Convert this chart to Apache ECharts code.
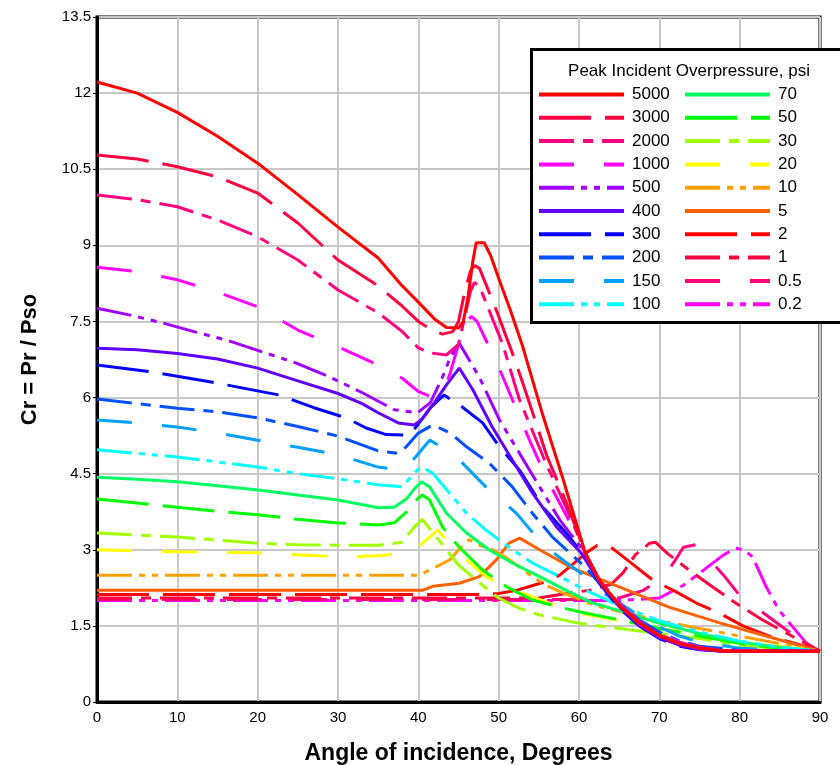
<!DOCTYPE html>
<html>
<head>
<meta charset="utf-8">
<script src="https://cdn.jsdelivr.net/npm/echarts@6/dist/echarts.min.js"></script>
<style>
  html, body { margin: 0; padding: 0; background: #fff; }
  #chart { width: 840px; height: 765px; }
</style>
</head>
<body>
<div id="chart"></div>
<script>
// peak incident overpressure, psi (legend order)
let pressures = ["5000", "3000", "2000", "1000", "500", "400", "300", "200", "150", "100",
                 "70", "50", "30", "20", "10", "5", "2", "1", "0.5", "0.2"]

// [angle, Cr]
let cr5000 = [[0,12.22],[5,12.0],[10,11.62],[15,11.15],[20,10.62],[25,10.0],[30,9.36],[35,8.75],[38,8.2],[40,7.88],[42,7.55],[43.5,7.38],[45,7.37],[45.6,7.5],[46.2,8.0],[46.8,8.7],[47.2,9.05],[48.2,9.05],[49,8.8],[50,8.35],[51.5,7.7],[53,7.0],[55.5,5.65],[58,4.4],[60.8,2.93],[62.5,2.4],[65,1.9],[67.5,1.55],[70,1.3],[72.5,1.15],[75,1.06],[78,1.0],[90,1.0]]
let cr3000 = [[0,10.78],[5,10.7],[10,10.55],[15,10.35],[20,10.03],[25,9.44],[30,8.71],[35,8.2],[38,7.8],[40,7.5],[41.5,7.35],[43,7.25],[44.3,7.3],[45,7.5],[45.8,8.1],[46.5,8.5],[47,8.6],[47.6,8.55],[48.5,8.2],[50,7.6],[52,6.75],[53.5,6.05],[56,4.85],[58.5,3.9],[60.8,2.93],[62.5,2.4],[65,1.92],[67.5,1.57],[70,1.32],[72.5,1.16],[75,1.07],[78,1.01],[90,1.0]]
let cr2000 = [[0,9.99],[5,9.9],[10,9.76],[15,9.5],[20,9.17],[25,8.71],[30,8.12],[35,7.67],[38,7.3],[40,6.98],[41.5,6.88],[43.5,6.84],[45,7.05],[45.8,7.6],[46.5,8.1],[47,8.27],[47.6,8.2],[48.6,7.8],[50.5,7.05],[52.6,5.95],[55.9,4.7],[58.5,3.8],[60.8,2.93],[62.5,2.42],[65,1.93],[67.5,1.58],[70,1.33],[72.5,1.17],[75,1.08],[78,1.01],[90,1.0]]
let cr1000 = [[0,8.57],[5,8.48],[10,8.32],[15,8.08],[20,7.79],[25,7.33],[30,7.0],[35,6.64],[38,6.38],[40,6.12],[41.5,6.02],[43,6.05],[44,6.5],[45,7.05],[46,7.5],[46.6,7.6],[47.3,7.5],[48.5,7.1],[50,6.6],[52,5.85],[54,5.1],[56,4.4],[58.5,3.65],[60.8,2.93],[62.5,2.42],[65,1.94],[67.5,1.59],[70,1.34],[72.5,1.18],[75,1.08],[78,1.01],[90,1.0]]
let cr500 = [[0,7.76],[4,7.63],[8.2,7.47],[12.3,7.29],[16.2,7.13],[20.6,6.9],[24.8,6.68],[28.9,6.41],[33.1,6.09],[37,5.76],[39.9,5.7],[41.5,5.9],[43,6.4],[44,6.8],[45.1,7.07],[47.6,6.4],[50.1,5.56],[52.6,4.9],[55.1,4.24],[57.6,3.59],[60.8,2.93],[62.5,2.4],[65,1.88],[67.5,1.53],[70,1.28],[72.5,1.13],[75,1.04],[78,1.0],[90,1.0]]
let cr400 = [[0,6.97],[5,6.94],[10,6.87],[15,6.76],[20,6.58],[25,6.33],[30,6.08],[33,5.88],[35,5.7],[37.5,5.5],[39.5,5.46],[40.5,5.58],[42,5.9],[43.5,6.25],[45.1,6.58],[46.8,6.15],[49.2,5.42],[51.7,4.77],[54.2,4.12],[57.2,3.45],[60.3,2.93],[62.5,2.38],[65,1.88],[67.5,1.52],[70,1.27],[72.5,1.12],[75,1.04],[78,1.0],[90,1.0]]
let cr300 = [[0,6.64],[6.2,6.52],[14.4,6.3],[22.7,6.05],[27,5.8],[31,5.6],[33.5,5.4],[36,5.27],[38.9,5.26],[40.1,5.5],[41.5,5.8],[43.2,6.05],[45.5,5.81],[48,5.5],[50.1,5.03],[52.6,4.57],[55.5,3.84],[58.4,3.33],[60.8,2.85],[62.5,2.35],[65,1.85],[67.5,1.5],[70,1.25],[72.5,1.1],[75,1.03],[78,1.0],[90,1.0]]
let cr200 = [[0,5.97],[5,5.88],[10,5.79],[15,5.72],[20,5.6],[25,5.43],[30,5.24],[35,4.95],[37.5,4.9],[38.5,5.03],[40,5.3],[41.8,5.46],[44,5.3],[46,5.03],[48.8,4.71],[51.7,4.24],[54.2,3.72],[56.7,3.25],[60.5,2.7],[62.5,2.35],[65,1.95],[67.5,1.62],[70,1.38],[72.5,1.2],[75,1.1],[80,1.02],[90,1.0]]
let cr150 = [[0,5.56],[5,5.5],[10,5.42],[15,5.3],[20,5.16],[25,5.02],[30,4.87],[35,4.63],[38,4.57],[39.5,4.8],[41.4,5.16],[44.3,4.9],[48.4,4.24],[52.2,3.72],[55.5,3.1],[58.4,2.75],[61,2.45],[63,2.15],[65,1.95],[67.5,1.7],[70,1.48],[72.5,1.3],[75,1.18],[80,1.06],[90,1.0]]
let cr100 = [[0,4.97],[5,4.9],[10,4.83],[15,4.73],[20,4.63],[25,4.5],[30,4.4],[35,4.28],[38,4.24],[39.7,4.55],[40.4,4.63],[41.8,4.51],[44.3,4.04],[46,3.72],[48.4,3.39],[51.3,3.05],[54.2,2.74],[57.6,2.47],[60.9,2.2],[65,1.9],[70,1.6],[75,1.38],[80,1.2],[85,1.08],[90,1.0]]
let cr70 = [[0,4.43],[5,4.39],[10,4.34],[15,4.26],[20,4.18],[25,4.08],[30,3.98],[35,3.83],[37,3.84],[38.5,4.0],[39.5,4.2],[40.4,4.34],[41.4,4.24],[43.5,3.72],[46,3.33],[48.8,3.0],[51.7,2.74],[55.1,2.47],[58.4,2.2],[61.7,1.95],[65,1.8],[70,1.55],[75,1.35],[80,1.18],[85,1.08],[90,1.0]]
let cr50 = [[0,4.0],[5,3.92],[10,3.84],[15,3.76],[20,3.69],[25,3.6],[30,3.53],[35,3.49],[37,3.53],[38.5,3.74],[39.5,3.95],[40.5,4.08],[41.4,3.98],[43,3.45],[45.1,3.05],[48,2.6],[51,2.27],[54.2,2.01],[57.6,1.87],[60,1.78],[65,1.62],[70,1.45],[75,1.3],[80,1.15],[85,1.06],[90,1.0]]
let cr30 = [[0,3.33],[5,3.29],[10,3.25],[15,3.19],[20,3.13],[25,3.1],[30,3.09],[35,3.09],[38,3.15],[39.5,3.45],[40.5,3.6],[42.5,3.2],[45,2.7],[48,2.3],[50,2.05],[52.5,1.85],[55,1.72],[60,1.55],[65,1.45],[70,1.35],[75,1.25],[80,1.12],[85,1.05],[90,1.0]]
let cr20 = [[0,3.0],[10,2.96],[20,2.94],[30,2.86],[35,2.88],[39,2.95],[41,3.19],[42.4,3.39],[43.8,3.13],[46,2.8],[48.4,2.47],[51,2.27],[54.2,2.07],[57.6,1.87],[60,1.75],[65,1.6],[70,1.45],[75,1.32],[80,1.2],[85,1.1],[90,1.0]]
let cr10 = [[0,2.5],[40,2.5],[41.4,2.6],[43.9,2.8],[45.3,3.05],[46.3,3.2],[47.5,3.1],[49.2,3.0],[51,2.84],[54.2,2.47],[55.9,2.3],[58,2.15],[62,1.9],[66,1.75],[70,1.6],[75,1.45],[80,1.3],[85,1.15],[90,1.0]]
let cr5 = [[0,2.2],[40.5,2.2],[41.8,2.28],[45.1,2.34],[47.6,2.47],[49.7,2.8],[51.3,3.13],[52.6,3.23],[55.1,3.0],[58.9,2.66],[65,2.27],[71.2,1.87],[77.5,1.56],[83.7,1.28],[90,1.0]]
let cr2 = [[0,2.12],[48,2.12],[50,2.14],[52.2,2.2],[55.4,2.35],[57.6,2.5],[59.5,2.75],[61,2.95],[62.2,3.08],[63,3.1],[64,3.05],[66,2.8],[69.2,2.4],[72.1,2.17],[74.6,1.95],[77.5,1.75],[80.4,1.5],[83.7,1.3],[87,1.15],[90,1.0]]
let cr1 = [[0,2.05],[55,2.05],[58.8,2.15],[61.3,2.2],[64,2.32],[65.5,2.55],[67,2.9],[68.8,3.13],[69.5,3.15],[71,2.93],[73.7,2.6],[76.6,2.27],[79.5,1.95],[82.8,1.62],[85.8,1.36],[90,1.0]]
let cr05 = [[0,2.02],[60,2.02],[65,2.05],[68,2.2],[70.5,2.45],[72,2.8],[73,3.05],[74.5,3.1],[76,2.85],[78,2.5],[80,2.1],[83,1.75],[86,1.4],[90,1.0]]
let cr02 = [[0,2.0],[65,2.0],[70,2.05],[73,2.3],[75.5,2.6],[78,2.9],[79.5,3.03],[80.5,3.0],[81.6,2.86],[83.3,2.27],[84.9,1.81],[86.6,1.48],[88.3,1.16],[90,1.0]]

let curves = [cr5000, cr3000, cr2000, cr1000, cr500, cr400, cr300, cr200, cr150, cr100,
              cr70, cr50, cr30, cr20, cr10, cr5, cr2, cr1, cr05, cr02]

let colors = ["#ff0000", "#ff0040", "#ff0080", "#ff00ff", "#a000ff", "#6000ff", "#0000ff", "#0050ff", "#00a0ff", "#00ffff",
              "#00ff60", "#00ff00", "#a0ff00", "#ffff00", "#ffa000", "#ff6000", "#ff0000", "#ff0040", "#ff0080", "#ff00ff"]

// five line styles, repeated in each block of five
let dashes = [
    "solid",
    [52, 14],
    [35, 9, 10, 9],
    [35, 30],
    [35, 7, 6, 7, 6, 7]
]

let chartDom = document.getElementById("chart")
let myChart = echarts.init(chartDom)

let series = pressures.map((p, i) => ({
    name: p,
    type: "line",
    data: curves[i],
    symbol: "none",
    showSymbol: false,
    animation: false,
    color: colors[i],
    lineStyle: {
        color: colors[i],
        width: 3,
        type: dashes[i % 5]
    },
    z: 2 + (pressures.length - i) / 100
}))

let legendCommon = {
    orient: "vertical",
    top: 81,
    itemWidth: 85,
    itemHeight: 14,
    itemGap: 6.3,
    selectedMode: false,
    z: 6,
    itemStyle: { opacity: 0 },
    lineStyle: { width: 4 },
    textStyle: {
        fontFamily: "Liberation Sans, Arial, sans-serif",
        fontSize: 17,
        color: "#000",
        padding: [0, 0, 0, 3]
    }
}

let option = {
    backgroundColor: "#fff",
    animation: false,
    grid: {
        left: 97,
        right: 20,
        top: 17,
        bottom: 63,
        outerBoundsMode: "none",
        containLabel: false,
        show: true,
        borderColor: "#000",
        borderWidth: 3,
        backgroundColor: "#fff"
    },
    xAxis: {
        type: "value",
        min: 0,
        max: 90,
        interval: 10,
        name: "Angle of incidence, Degrees",
        nameLocation: "middle",
        nameGap: 40,
        nameTextStyle: {
            fontFamily: "Liberation Sans, Arial, sans-serif",
            fontWeight: "bold",
            fontSize: 23,
            color: "#000"
        },
        axisLine: { show: true, lineStyle: { color: "#000", width: 3 } },
        axisTick: { show: false },
        axisLabel: {
            fontFamily: "Liberation Sans, Arial, sans-serif",
            fontSize: 15,
            color: "#000",
            margin: 8
        },
        splitLine: { show: true, lineStyle: { color: "#c8c8c8", width: 2 } }
    },
    yAxis: {
        type: "value",
        min: 0,
        max: 13.5,
        interval: 1.5,
        name: "Cr = Pr / Pso",
        nameLocation: "middle",
        nameGap: 56,
        nameTextStyle: {
            fontFamily: "Liberation Sans, Arial, sans-serif",
            fontWeight: "bold",
            fontSize: 22,
            color: "#000"
        },
        axisLine: { show: true, lineStyle: { color: "#000", width: 3 } },
        axisTick: { show: true, length: 4, lineStyle: { color: "#000" } },
        axisLabel: {
            fontFamily: "Liberation Sans, Arial, sans-serif",
            fontSize: 15,
            color: "#000",
            margin: 6
        },
        splitLine: { show: true, lineStyle: { color: "#c8c8c8", width: 2 } }
    },
    legend: [
        Object.assign({}, legendCommon, { left: 532, data: pressures.slice(0, 10) }),
        Object.assign({}, legendCommon, { left: 678, data: pressures.slice(10) })
    ],
    graphic: [
        {
            type: "rect",
            z: 5,
            shape: { x: 531.5, y: 49.5, width: 320, height: 273 },
            style: { fill: "#fff", stroke: "#000", lineWidth: 3 }
        },
        {
            type: "text",
            z: 6,
            x: 689,
            y: 71,
            style: {
                text: "Peak Incident Overpressure, psi",
                fontFamily: "Liberation Sans, Arial, sans-serif",
                fontSize: 17,
                fill: "#000",
                align: "center",
                verticalAlign: "middle"
            }
        }
    ],
    series: series
}

myChart.setOption(option)
</script>
</body>
</html>
